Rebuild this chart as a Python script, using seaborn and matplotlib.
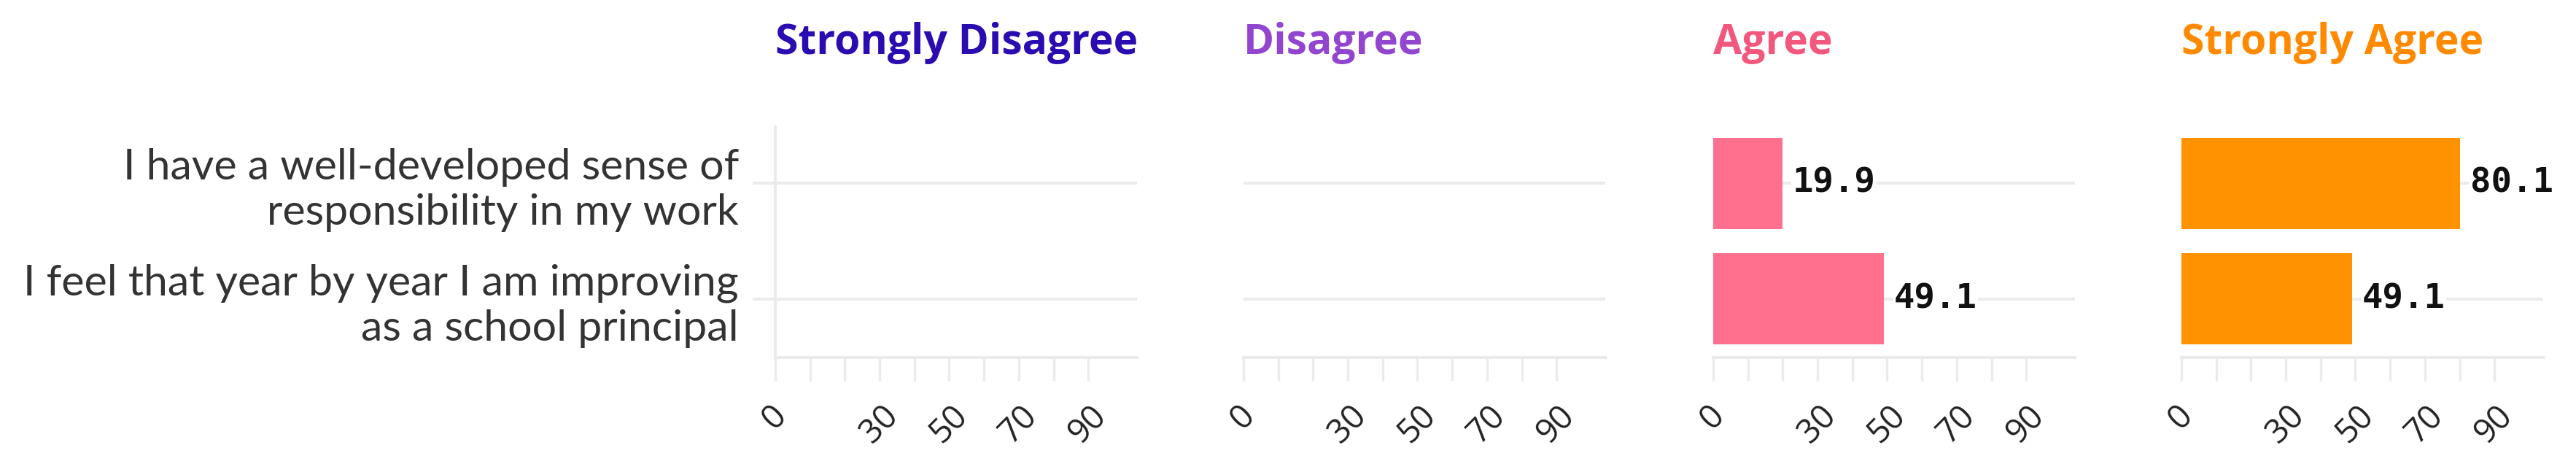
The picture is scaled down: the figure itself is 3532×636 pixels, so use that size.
import numpy as np
import pandas as pd
import matplotlib
matplotlib.use("Agg")
import matplotlib.pyplot as plt
import seaborn as sns

# ---- data ----
statements = [
    "I have a well-developed sense of\nresponsibility in my work",
    "I feel that year by year I am improving\nas a school principal",
]
responses = ["Strongly Disagree", "Disagree", "Agree", "Strongly Agree"]
strongly_disagree = [np.nan, np.nan]
disagree = [np.nan, np.nan]
agree = [19.9, 49.1]
strongly_agree = [80.1, 49.1]
xtick_values = [0, 10, 20, 30, 40, 50, 60, 70, 80, 90]
xtick_labels_shown = [0, 30, 50, 70, 90]

title_colors = ["#2b0cb0", "#9246cf", "#f2577d", "#ff8a00"]
bar_colors = ["#2b0cb0", "#9246cf", "#ff6f8e", "#ff9200"]

series = [strongly_disagree, disagree, agree, strongly_agree]

sns.set_theme(style="white")
plt.rcParams["font.family"] = ["Lato", "DejaVu Sans"]

W, H = 3532, 636
fig = plt.figure(figsize=(W / 100, H / 100), dpi=100)

grid_col = "#ebebeb"
lefts = [1063, 1705, 2349, 2991]
ax_w = 496
ax_top, ax_bot = 174, 490

for i, (resp, vals) in enumerate(zip(responses, series)):
    ax = fig.add_axes([lefts[i] / W, 1 - ax_bot / H, ax_w / W, (ax_bot - ax_top) / H])
    df = pd.DataFrame({"statement": statements, "value": vals})
    sns.barplot(data=df, x="value", y="statement", order=statements, ax=ax,
                color=bar_colors[i], width=0.79, linewidth=0, saturation=1,
                orient="h", errorbar=None)
    ax.set_xlim(0, 104)
    ax.set_ylim(1.506, -0.4875)
    ax.set_xlabel("")
    ax.set_ylabel("")
    ax.set_xticks(xtick_values)
    ax.set_xticklabels([str(v) if v in xtick_labels_shown else "" for v in xtick_values],
                       rotation=45, ha="center", fontsize=33, color="#222222",
                       family=["Open Sans", "DejaVu Sans"])
    ax.tick_params(axis="x", length=23, width=2.5, color=grid_col, pad=18, bottom=True)
    ax.grid(axis="y", color=grid_col, linewidth=3)
    ax.grid(axis="x", visible=False)
    ax.set_axisbelow(True)
    for s in ["top", "right"]:
        ax.spines[s].set_visible(False)
    ax.spines["bottom"].set_color(grid_col)
    ax.spines["bottom"].set_linewidth(3)
    if i == 0:
        ax.spines["left"].set_color(grid_col)
        ax.spines["left"].set_linewidth(3)
        ax.tick_params(axis="y", length=22, width=3, color=grid_col, pad=14, left=True)
        ax.set_yticklabels(statements, fontsize=42.5, color="#333333", ha="right")
    else:
        ax.spines["left"].set_visible(False)
        ax.tick_params(axis="y", left=False, labelleft=False)
    ax.set_title(resp, loc="left", pad=72, fontsize=41, fontweight="bold",
                 color=title_colors[i], family=["Open Sans", "DejaVu Sans"])
    for j, v in enumerate(vals):
        if v is not None and not np.isnan(v) and v > 0:
            ax.annotate(f"{v:.1f}", xy=(v, j), xytext=(10, 0), textcoords="offset points",
                        va="center", ha="left", fontsize=34, fontweight="bold",
                        family=["DejaVu Sans Mono"], color="#111111",
                        bbox=dict(facecolor="white", edgecolor="none", pad=1))

fig.savefig("out.png", dpi=100)
